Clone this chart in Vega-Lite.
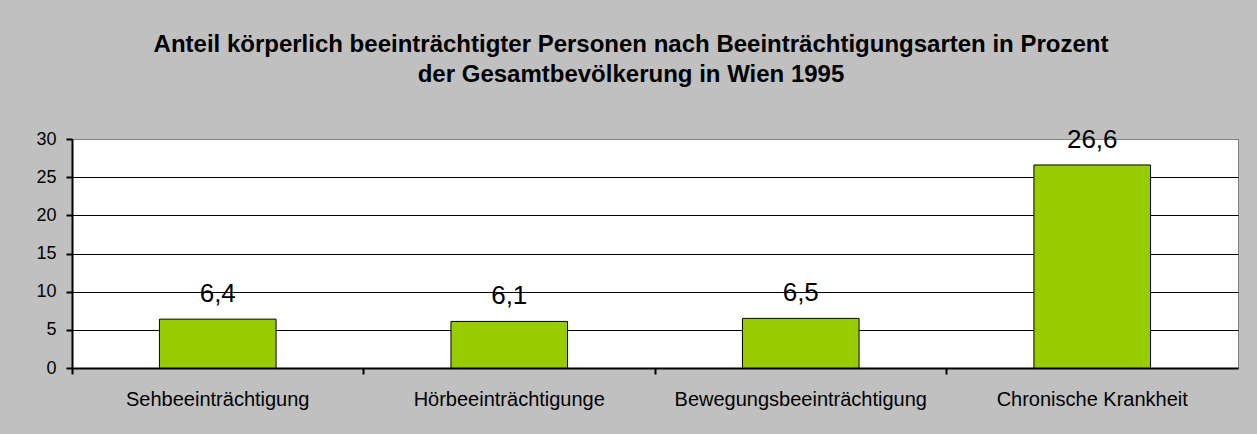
{
  "$schema": "https://vega.github.io/schema/vega-lite/v6.json",
  "width": 1166,
  "height": 229,
  "autosize": {"type": "none"},
  "padding": {"left": 72, "top": 139, "right": 19, "bottom": 66},
  "background": "#c0c0c0",
  "title": {
    "text": ["Anteil körperlich beeinträchtigter Personen nach Beeinträchtigungsarten in Prozent", "der Gesamtbevölkerung in Wien 1995"],
    "font": "Liberation Sans",
    "fontSize": 24,
    "fontWeight": "bold",
    "color": "black",
    "lineHeight": 30,
    "anchor": "middle",
    "dx": -24,
    "offset": 40
  },
  "data": {
    "values": [
      {"Art": "Sehbeeinträchtigung", "Prozent": 6.4},
      {"Art": "Hörbeeinträchtigunge", "Prozent": 6.1},
      {"Art": "Bewegungsbeeinträchtigung", "Prozent": 6.5},
      {"Art": "Chronische Krankheit", "Prozent": 26.6}
    ]
  },
  "encoding": {
    "x": {
      "field": "Art",
      "type": "nominal",
      "sort": null,
      "scale": {"paddingInner": 0, "paddingOuter": 0},
      "axis": {
        "title": null,
        "labelAngle": 0,
        "labelFont": "Liberation Sans",
        "labelFontSize": 20,
        "labelColor": "black",
        "labelPadding": 15,
        "labelLimit": 0,
        "bandPosition": 0,
        "tickColor": "black",
        "tickSize": 6,
        "tickWidth": 2,
        "domainColor": "black",
        "domainWidth": 2,
        "grid": false
      }
    },
    "y": {
      "field": "Prozent",
      "type": "quantitative",
      "scale": {"domain": [0, 30], "nice": false},
      "axis": {
        "title": null,
        "values": [0, 5, 10, 15, 20, 25, 30],
        "labelFont": "Liberation Sans",
        "labelFontSize": 18,
        "labelColor": "black",
        "labelPadding": 10,
        "tickColor": "black",
        "tickSize": 6,
        "tickWidth": 2,
        "domainColor": "black",
        "domainWidth": 2,
        "grid": true,
        "gridColor": {"condition": {"test": "datum.value === 30 || datum.value === 0", "value": "#808080"}, "value": "black"},
        "gridWidth": 1,
        "gridOpacity": 1
      }
    }
  },
  "layer": [
    {
      "mark": {"type": "bar", "width": {"band": 0.4}, "fill": "#99cc00", "stroke": "black", "strokeWidth": 1}
    },
    {
      "mark": {"type": "text", "baseline": "alphabetic", "dy": -17, "font": "Liberation Sans", "fontSize": 26, "color": "black"},
      "encoding": {
        "text": {"field": "Prozent", "type": "quantitative", "format": ".1f"}
      }
    }
  ],
  "config": {
    "locale": {"number": {"decimal": ",", "thousands": ".", "grouping": [3], "currency": ["", " €"]}},
    "view": {"fill": "white", "stroke": "#808080", "strokeWidth": 1}
  }
}
